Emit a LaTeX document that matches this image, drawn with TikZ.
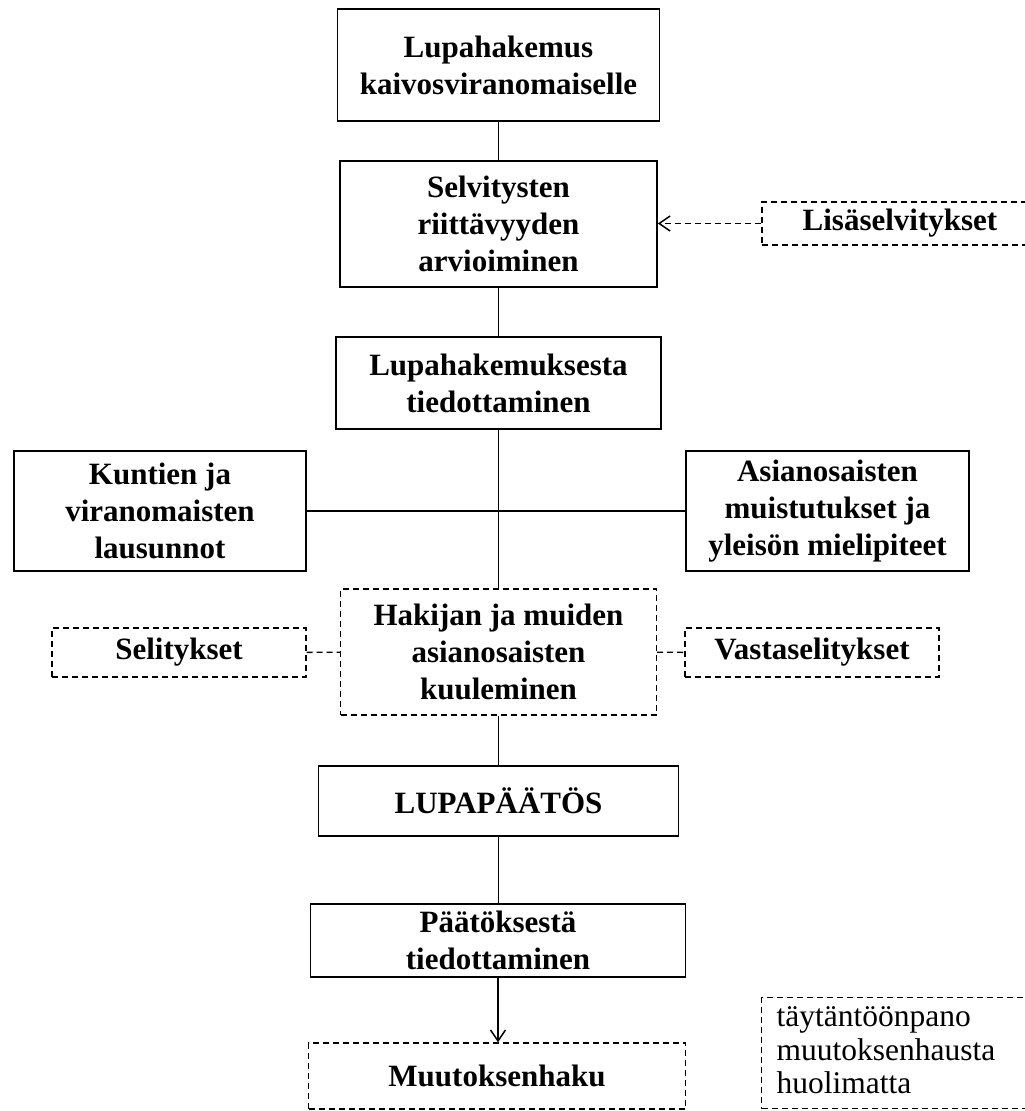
\documentclass[tikz,border=0pt]{standalone}
\usepackage{fontspec}
\setmainfont{Liberation Serif}
\usetikzlibrary{arrows.meta}
\begin{document}
\begin{tikzpicture}[x=1pt,y=-1pt,
  box/.style={draw, line width=1.6pt, inner sep=0pt, align=center,
    font=\bfseries\fontsize{31}{37}\selectfont},
  dbox/.style={box, line width=1.4pt, dash pattern=on 6pt off 4pt},
  conn/.style={line width=1.5pt},
  dconn/.style={line width=1.4pt, dash pattern=on 6pt off 4pt},
  tip/.style={-{Straight Barb[length=11pt,width=15pt,line width=1.5pt]}}]
\useasboundingbox (0,0) rectangle (1025,1111);
\clip (0,0) rectangle (1025,1111);
\node[box, minimum width=322pt, minimum height=112pt] (b1) at (498.5,65) {Lupahakemus\\kaivosviranomaiselle};
\node[box, minimum width=317pt, minimum height=126pt] (b2) at (498.5,224) {Selvitysten\\riittävyyden\\arvioiminen};
\node[box, minimum width=325pt, minimum height=92pt] (b3) at (498.5,383) {Lupahakemuksesta\\tiedottaminen};
\node[box, minimum width=292pt, minimum height=120pt] (kun) at (160,511) {Kuntien ja\\viranomaisten\\lausunnot};
\node[box, minimum width=283pt, minimum height=120pt] (asi) at (827.5,511) {Asianosaisten\\muistutukset ja\\yleisön mielipiteet};
\node[dbox, minimum width=316pt, minimum height=126pt] (hak) at (498.5,652) {Hakijan ja muiden\\asianosaisten\\kuuleminen};
\node[dbox, minimum width=254pt, minimum height=49pt] (sel) at (179,652.5) {Selitykset};
\node[dbox, minimum width=254pt, minimum height=49pt] (vas) at (812,652.5) {Vastaselitykset};
\node[dbox, minimum width=276pt, minimum height=43pt] (lis) at (900,223.5) {Lisäselvitykset};
\node[box, minimum width=360pt, minimum height=70pt] (lup) at (498.5,801) {LUPAPÄÄTÖS};
\node[box, minimum width=375pt, minimum height=73pt] (paa) at (498,940.5) {Päätöksestä\\tiedottaminen};
\node[dbox, minimum width=377pt, minimum height=66pt] (muu) at (497,1076) {Muutoksenhaku};
\node[dbox, anchor=north west, text width=265pt, inner xsep=15pt, inner ysep=7pt,
  text height=22pt, text depth=75pt, align=left,
  font=\fontsize{31.5}{33.5}\selectfont] (tay) at (761,997) {täytäntöönpano\\muutoksenhausta\\huolimatta};
% connectors
\draw[conn] (b1) -- (b2);
\draw[conn] (b2) -- (b3);
\draw[conn] (b3) -- (hak);
\draw[conn] (kun) -- (asi);
\draw[conn] (hak) -- (lup);
\draw[conn] (lup) -- (lup |- paa.north);
\draw[conn, tip] (paa) -- (paa |- muu.north);
\draw[dconn] (sel) -- (hak);
\draw[dconn] (hak) -- (vas);
\draw[dconn, tip] (lis) -- (b2.east |- lis.west);
\end{tikzpicture}
\end{document}
